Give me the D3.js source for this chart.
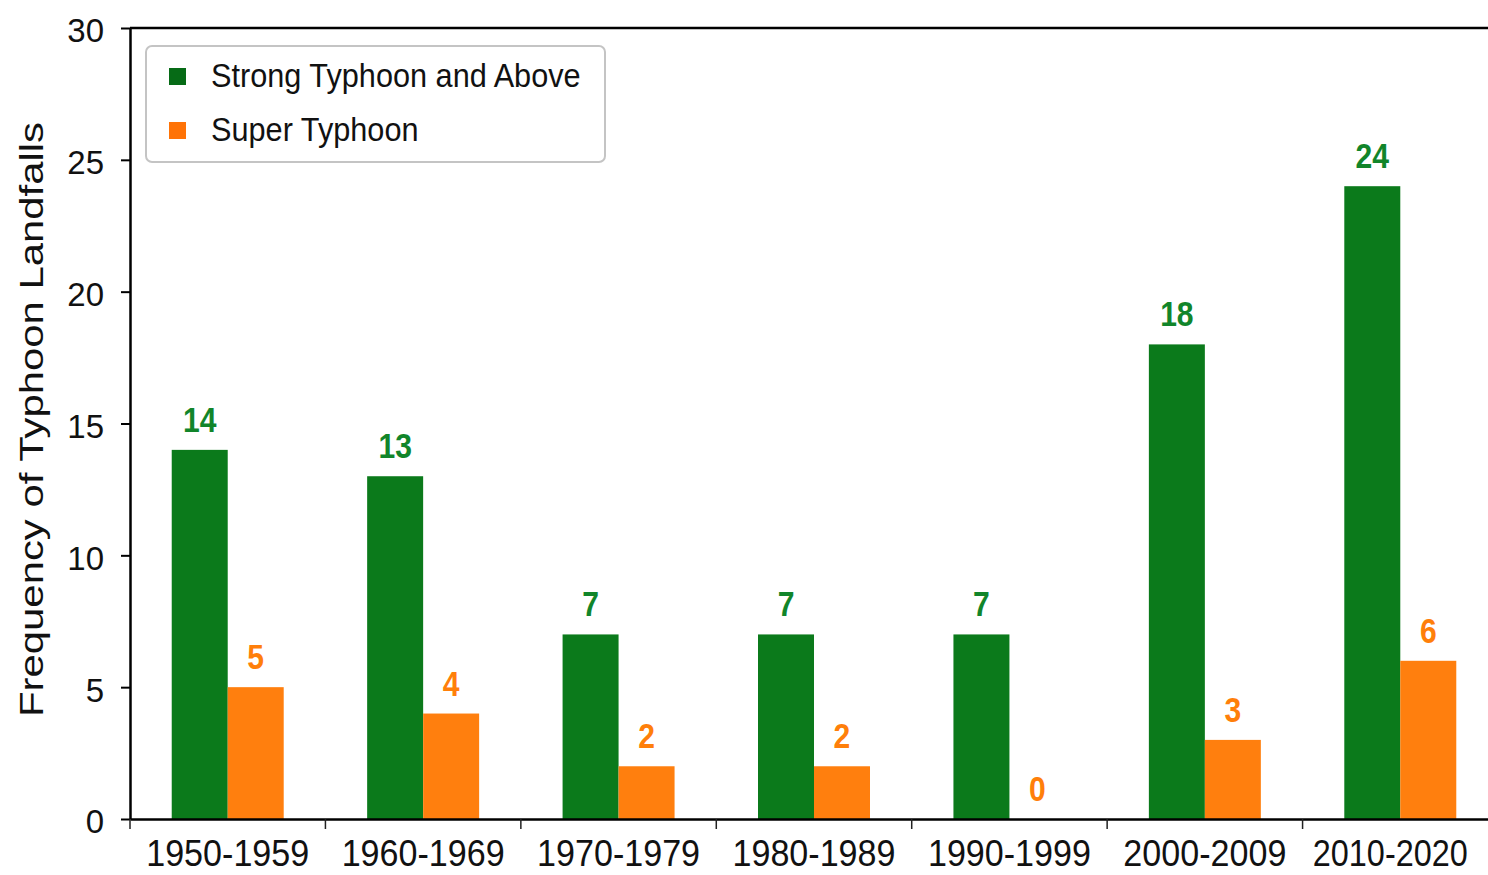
<!DOCTYPE html>
<html>
<head>
    <meta charset="UTF-8">
    <title>Typhoon Landfalls</title>
    <script src="https://d3js.org/d3.v7.min.js"></script>
    <style>
        body {
            margin: 0;
            background-color: #fff;
        }

        svg {
            display: block;
            font-family: 'Liberation Sans', Arial, sans-serif;
        }
    </style>
</head>
<body>
    <svg width="1488" height="875"></svg>
    <script>
        // data
        let decades = ["1950-1959", "1960-1969", "1970-1979", "1980-1989", "1990-1999", "2000-2009", "2010-2020"];
        let strongAndAbove = [14, 13, 7, 7, 7, 18, 24];
        let superTyphoon = [5, 4, 2, 2, 0, 3, 6];
        let seriesNames = ["Strong Typhoon and Above", "Super Typhoon"];
        let yTicks = [0, 5, 10, 15, 20, 25, 30];

        let barColors = ["#0b7a1b", "#ff7f0e"];
        let labelColors = ["#11852a", "#ff7f0a"];
        let legendColors = ["#066b16", "#ff7306"];

        let width = 1488, height = 875;
        let margin = { left: 130, top: 28, bottom: 56 };
        let plotRight = 1498;

        let svg = d3.select("svg");

        let y = d3.scaleLinear()
            .domain([0, 30])
            .range([height - margin.bottom, margin.top]);

        let x0 = d3.scaleBand()
            .domain(decades)
            .range([margin.left, plotRight])
            .paddingInner(0.427)
            .paddingOuter(0.2135);

        let x1 = d3.scaleBand()
            .domain(seriesNames)
            .range([0, x0.bandwidth()]);

        let rows = decades.map((d, i) => ({
            decade: d,
            values: [strongAndAbove[i], superTyphoon[i]]
        }));

        // bars
        let groups = svg.append("g")
            .selectAll("g")
            .data(rows)
            .enter().append("g")
            .attr("transform", d => `translate(${x0(d.decade)},0)`);

        groups.selectAll("rect")
            .data(d => d.values.map((v, k) => ({ key: seriesNames[k], value: v, k: k })))
            .enter().append("rect")
            .attr("x", d => x1(d.key))
            .attr("y", d => y(d.value))
            .attr("width", x1.bandwidth())
            .attr("height", d => y(0) - y(d.value))
            .attr("fill", d => barColors[d.k]);

        // value labels
        groups.selectAll("text")
            .data(d => d.values.map((v, k) => ({ key: seriesNames[k], value: v, k: k })))
            .enter().append("text")
            .attr("transform", d => `translate(${x1(d.key) + x1.bandwidth() / 2},${y(d.value) - 18}) scale(0.86,1)`)
            .attr("text-anchor", "middle")
            .attr("font-size", 35)
            .attr("font-weight", "bold")
            .attr("fill", d => labelColors[d.k])
            .text(d => d.value);

        // y axis
        let yAxis = svg.append("g")
            .attr("transform", `translate(${margin.left},0)`)
            .call(d3.axisLeft(y).tickValues(yTicks).tickSize(9).tickSizeOuter(0).tickPadding(17));
        yAxis.select(".domain").attr("stroke-width", 2.5);
        yAxis.selectAll(".tick line").attr("stroke-width", 2);
        yAxis.selectAll("text")
            .attr("font-size", 33)
            .attr("font-family", "'Liberation Sans', Arial, sans-serif")
            .attr("dy", "0.42em")
            .attr("fill", "#111");

        // x axis: labels centred, tick marks between decades
        let xAxis = svg.append("g")
            .attr("transform", `translate(0,${y(0)})`)
            .call(d3.axisBottom(x0).tickSize(0).tickSizeOuter(0));
        xAxis.select(".domain").attr("stroke-width", 2.5);
        let last = decades[decades.length - 1];
        xAxis.selectAll("text")
            .attr("font-size", 37)
            .attr("font-family", "'Liberation Sans', Arial, sans-serif")
            .attr("y", 47)
            .attr("dy", 0)
            // last label sits squeezed against the right edge
            .attr("dx", d => d === last ? -10 : 0)
            .attr("textLength", d => d === last ? 155 : 163)
            .attr("lengthAdjust", "spacingAndGlyphs")
            .attr("fill", "#111");

        let half = (x0.step() - x0.bandwidth()) / 2;
        xAxis.selectAll(".sep")
            .data(decades)
            .enter().append("line")
            .attr("class", "sep")
            .attr("x1", d => x0(d) - half)
            .attr("x2", d => x0(d) - half)
            .attr("y1", 0)
            .attr("y2", 10)
            .attr("stroke", "#222")
            .attr("stroke-width", 1.5);

        // top and right frame
        svg.append("line")
            .attr("x1", margin.left)
            .attr("x2", plotRight)
            .attr("y1", y(30))
            .attr("y2", y(30))
            .attr("stroke", "#000")
            .attr("stroke-width", 2.5);
        svg.append("line")
            .attr("x1", plotRight)
            .attr("x2", plotRight)
            .attr("y1", y(30))
            .attr("y2", y(0))
            .attr("stroke", "#000")
            .attr("stroke-width", 2.5);

        // y title
        svg.append("text")
            .attr("transform", `translate(43,${(122 + 717) / 2}) rotate(-90)`)
            .attr("text-anchor", "middle")
            .attr("font-size", 34)
            .attr("textLength", 595)
            .attr("lengthAdjust", "spacingAndGlyphs")
            .attr("fill", "#111")
            .text("Frequency of Typhoon Landfalls");

        // legend
        let legend = svg.append("g")
            .attr("transform", "translate(146,46)");

        legend.append("rect")
            .attr("width", 459)
            .attr("height", 116)
            .attr("rx", 6)
            .attr("ry", 6)
            .attr("fill", "#fff")
            .attr("stroke", "#c4c4c4")
            .attr("stroke-width", 2);

        legend.selectAll(".swatch")
            .data(seriesNames)
            .enter().append("rect")
            .attr("class", "swatch")
            .attr("x", 23)
            .attr("y", (d, i) => 22 + i * 54)
            .attr("width", 17)
            .attr("height", 17)
            .attr("fill", (d, i) => legendColors[i]);

        legend.selectAll(".label")
            .data(seriesNames)
            .enter().append("text")
            .attr("class", "label")
            .attr("transform", (d, i) => `translate(65,${41 + i * 54}) scale(0.93,1)`)
            .attr("font-size", 33)
            .attr("fill", "#111")
            .text(d => d);
    </script>
</body>
</html>
